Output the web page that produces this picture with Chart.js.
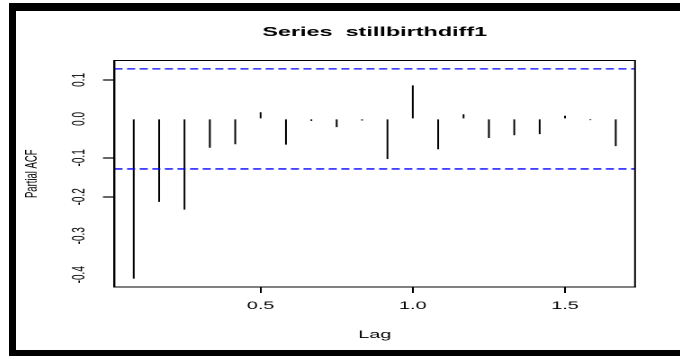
<!DOCTYPE html>
<html>
<head>
<meta charset="utf-8">
<title>Series stillbirthdiff1</title>
<script src="https://cdn.jsdelivr.net/npm/chart.js@4/dist/chart.umd.min.js"></script>
<style>
  html, body { margin: 0; padding: 0; background: #fff; }
  body { width: 680px; height: 356px; position: relative; overflow: hidden; }
  #frame {
    position: absolute; left: 9px; top: 3px; width: 700px; height: 339px;
    border-left: 7px solid #000; border-top: 8px solid #000; border-bottom: 8px solid #000;
  }
  /* the plot was exported wide, so the whole device is stretched sideways */
  #plot {
    position: absolute; left: 16px; top: 11px; width: 369px; height: 339px;
    transform: scaleX(1.8); transform-origin: 0 0;
  }
</style>
</head>
<body>
<div id="frame"></div>
<div id="plot"><canvas id="pacf"></canvas></div>
<script>
// lag in years (monthly series), partial autocorrelation at each lag
const lags = [0.0833, 0.1667, 0.25, 0.3333, 0.4167, 0.5, 0.5833, 0.6667, 0.75, 0.8333,
              0.9167, 1.0, 1.0833, 1.1667, 1.25, 1.3333, 1.4167, 1.5, 1.5833, 1.6667];
const pacf = [-0.410, -0.213, -0.233, -0.074, -0.065, 0.017, -0.066, -0.005, -0.021, -0.004,
              -0.103, 0.086, -0.078, 0.012, -0.049, -0.042, -0.039, 0.008, -0.003, -0.070];
const ci = 0.1284; // 1.96 / sqrt(n)

const xTicks = [0.5, 1.0, 1.5];
const yTicks = [-0.4, -0.3, -0.2, -0.1, 0.0, 0.1];
const yMarkedTicks = [0.1, -0.1, -0.2];

const xMin = 0.02, xMax = 1.73;
const yMin = -0.4315, yMax = 0.1499;

const FONT = "'Liberation Sans', Arial, sans-serif";

const plotBox = {
  id: 'plotBox',
  afterDraw(chart) {
    const { ctx, chartArea: a } = chart;
    ctx.save();
    ctx.strokeStyle = '#000';
    ctx.lineWidth = 1;
    ctx.strokeRect(a.left, a.top, a.right - a.left, a.bottom - a.top);
    ctx.restore();
  }
};

const markY = (c) => c.tick && yMarkedTicks.some(t => Math.abs(t - c.tick.value) < 1e-9);

new Chart(document.getElementById('pacf'), {
  data: {
    datasets: [
      {
        type: 'bar',
        data: lags.map((x, i) => ({ x: x, y: pacf[i] })),
        backgroundColor: '#000',
        borderWidth: 0,
        barThickness: 1,
        inflateAmount: 0,
        order: 2
      },
      {
        type: 'line',
        data: [{ x: xMin, y: ci }, { x: xMax, y: ci }],
        borderColor: '#0000ff',
        borderWidth: 1.3,
        borderDash: [4.5, 2.5],
        pointRadius: 0,
        order: 1
      },
      {
        type: 'line',
        data: [{ x: xMin, y: -ci }, { x: xMax, y: -ci }],
        borderColor: '#0000ff',
        borderWidth: 1.3,
        borderDash: [4.5, 2.5],
        pointRadius: 0,
        order: 1
      }
    ]
  },
  options: {
    responsive: true,
    maintainAspectRatio: false,
    animation: false,
    devicePixelRatio: 2,
    layout: { padding: { top: 0, left: 0, right: 25.1, bottom: 0 } },
    plugins: {
      legend: { display: false },
      tooltip: { enabled: false },
      title: {
        display: true,
        text: 'Series  stillbirthdiff1',
        color: '#000',
        fullSize: false,
        font: { family: FONT, size: 13, weight: 'bold', lineHeight: 1.2 },
        padding: { top: 13.5, bottom: 20.4 }
      }
    },
    scales: {
      x: {
        type: 'linear',
        position: 'bottom',
        offset: false,
        min: xMin,
        max: xMax,
        afterBuildTicks: (scale) => { scale.ticks = xTicks.map(v => ({ value: v })); },
        afterFit: (scale) => { scale.height = 63; },
        ticks: {
          color: '#000',
          padding: 6.5,
          maxRotation: 0,
          font: { family: FONT, size: 11 },
          callback: (v) => Number(v).toFixed(1)
        },
        grid: {
          offset: false,
          drawOnChartArea: false,
          drawTicks: true,
          tickLength: 6,
          tickWidth: 1,
          tickColor: '#000'
        },
        border: { display: true, color: '#000', width: 1 },
        title: {
          display: true,
          text: 'Lag',
          color: '#000',
          font: { family: FONT, size: 11 },
          padding: { top: 0, bottom: 8.5 }
        }
      },
      y: {
        type: 'linear',
        position: 'left',
        min: yMin,
        max: yMax,
        afterBuildTicks: (scale) => { scale.ticks = yTicks.map(v => ({ value: v })); },
        afterFit: (scale) => { scale.width = 54.7; },
        ticks: {
          color: '#000',
          padding: 4.4,
          minRotation: 90,
          maxRotation: 90,
          crossAlign: 'center',
          font: { family: FONT, size: 10 },
          callback: (v) => Number(v).toFixed(1)
        },
        grid: {
          drawOnChartArea: false,
          drawTicks: true,
          tickLength: 6.4,
          tickWidth: (c) => markY(c) ? 1.2 : 0,
          tickColor: '#000'
        },
        border: { display: true, color: '#000', width: 1 },
        title: {
          display: true,
          text: 'Partial ACF',
          color: '#000',
          font: { family: FONT, size: 9.5 },
          padding: { top: 3.2 }
        }
      }
    }
  },
  plugins: [plotBox]
});
</script>
</body>
</html>
